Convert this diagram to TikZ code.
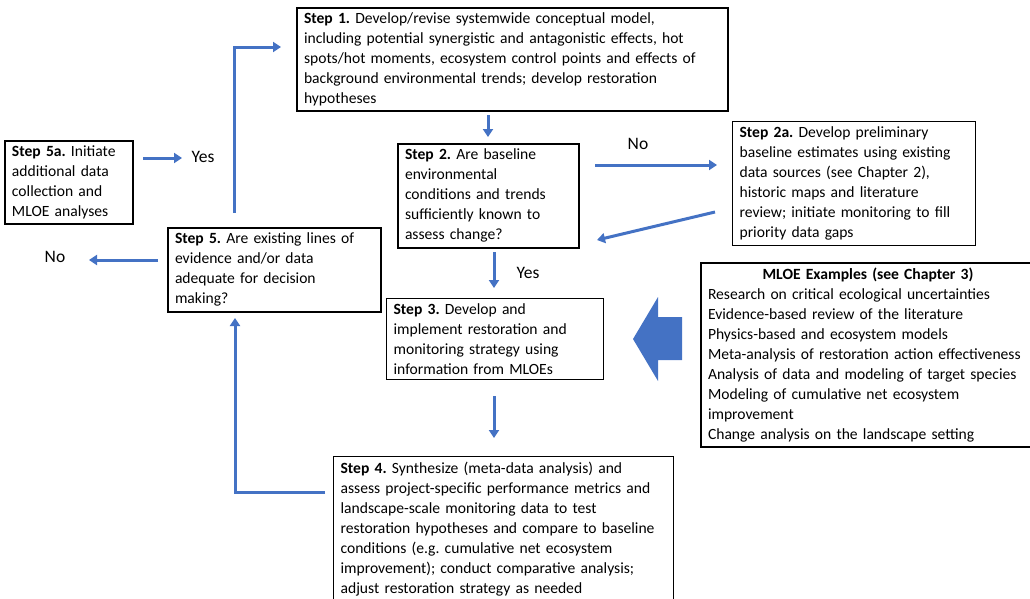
\documentclass[tikz,border=0pt]{standalone}
\usepackage{fontspec}
\setmainfont{Carlito}
\usetikzlibrary{arrows.meta}
\definecolor{flowblue}{HTML}{4472C4}
\frenchspacing
\begin{document}
\begin{tikzpicture}[x=1pt,y=-1pt,
  stepbox/.style={draw=black, line width=2pt, align=left, anchor=north west,
    inner xsep=7pt, inner ysep=5pt, font=\fontsize{15.6}{20}\selectfont, text width=#1},
  flow/.style={draw=flowblue, line width=3pt, -{Triangle[length=8pt,width=10pt]}},
  lbl/.style={font=\fontsize{17.5}{20}\selectfont, inner sep=0pt}]
\useasboundingbox (0,0) rectangle (1030,598);

\node[stepbox=417pt] (s1) at (296,7) {\textbf{Step 1.} Develop/revise systemwide conceptual model,\\
including potential synergistic and antagonistic effects, hot\\
spots/hot moments, ecosystem control points and effects of\\
background environmental trends; develop restoration\\
hypotheses};

\node[stepbox=167pt] (s2) at (397,143) {\textbf{Step 2.} Are baseline\\
environmental\\
conditions and trends\\
sufficiently known to\\
assess change?};

\node[stepbox=229pt, line width=1.2pt] (s2a) at (732,121) {\textbf{Step 2a.} Develop preliminary\\
baseline estimates using existing\\
data sources (see Chapter 2),\\
historic maps and literature\\
review; initiate  monitoring to fill\\
priority data gaps};

\node[stepbox=114pt] (s5a) at (4,140) {\textbf{Step 5a.} Initiate\\
additional data\\
collection and\\
MLOE analyses};

\node[stepbox=199pt] (s5) at (167,227) {\textbf{Step 5.} Are existing lines of\\
evidence and/or data\\
adequate for decision\\
making?};

\node[stepbox=203pt, line width=1.2pt] (s3) at (386,298) {\textbf{Step 3.} Develop and\\
implement restoration and\\
monitoring strategy using\\
information from MLOEs};

\node[stepbox=330pt] (mloe) at (700,262) {\makebox[\linewidth][c]{\hspace*{-10pt}\textbf{MLOE Examples (see Chapter 3)}}\\
Research on critical ecological uncertainties\\
Evidence-based review of the literature\\
Physics-based and ecosystem models\\
Meta-analysis of restoration action effectiveness\\
Analysis of data and modeling of target species\\
Modeling of cumulative net ecosystem\\
improvement\\
Change analysis on the landscape setting};

\node[stepbox=326pt, line width=1.2pt] (s4) at (333,456) {\textbf{Step 4.} Synthesize (meta-data analysis) and\\
assess project-specific performance metrics and\\
landscape-scale monitoring data to test\\
restoration hypotheses and compare to baseline\\
conditions (e.g. cumulative net ecosystem\\
improvement); conduct comparative analysis;\\
adjust restoration strategy as needed\\ \strut};

% labels
\node[lbl] (noR) at (638,144) {No};
\node[lbl] (yesD) at (528,273) {Yes};
\node[lbl] (yesL) at (203,157) {Yes};
\node[lbl] (noL) at (55,257) {No};

% connector ends
\coordinate (a1) at (488,115);
\coordinate (a2) at (488,137);
\coordinate (b1) at (595,165);
\coordinate (b2) at (717,165);
\coordinate (c1) at (715,212);
\coordinate (c2) at (597,240);
\coordinate (d1) at (494,252);
\coordinate (d2) at (494,288);
\coordinate (e1) at (494,396);
\coordinate (e2) at (494,438);
\coordinate (f1) at (325,492);
\coordinate (f2) at (235,318);
\coordinate (g1) at (234,213);
\coordinate (g2) at (281,47);
\coordinate (h1) at (143,158);
\coordinate (h2) at (182,158);
\coordinate (i1) at (158,260);
\coordinate (i2) at (89,260);

\draw[flow] (a1) -- (a2);
\draw[flow] (b1) -- (b2);
\draw[flow] (c1) -- (c2);
\draw[flow] (d1) -- (d2);
\draw[flow] (e1) -- (e2);
\draw[flow] (f1) -| (f2);
\draw[flow] (g1) |- (g2);
\draw[flow] (h1) -- (h2);
\draw[flow] (i1) -- (i2);

% big block arrow
\fill[flowblue] (633,339) -- (658,297) -- (658,317) -- (682,317) -- (682,360) -- (658,360) -- (658,381) -- cycle;
\end{tikzpicture}
\end{document}
